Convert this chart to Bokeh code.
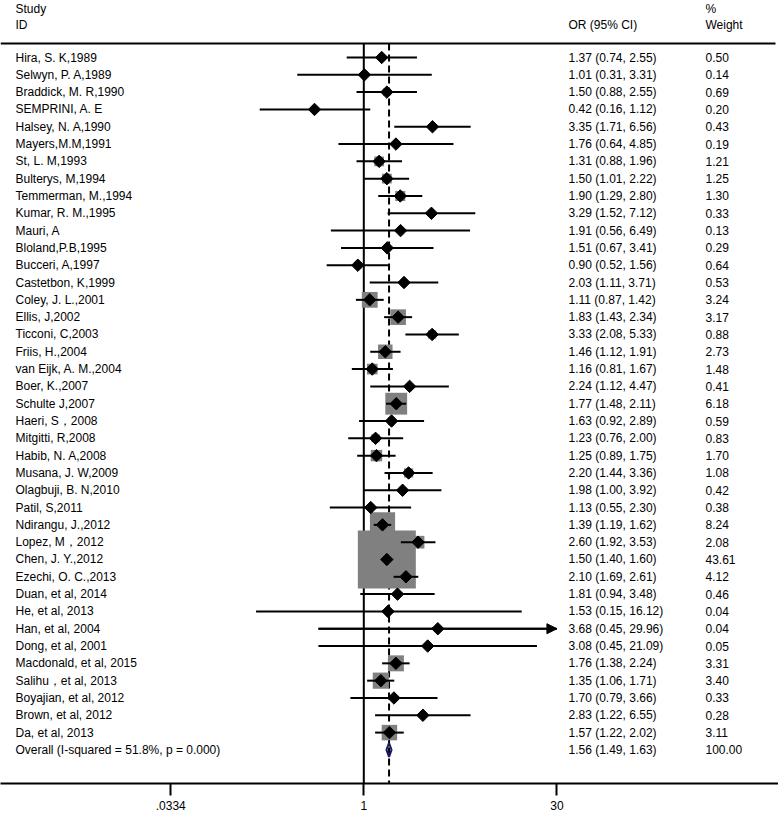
import math
from bokeh.plotting import figure
from bokeh.models import Range1d, FixedTicker, ColumnDataSource, Arrow, NormalHead
from bokeh.embed import file_html
from bokeh.resources import INLINE
from bokeh.core.properties import value

# ---------------- data ----------------
studies = [
    "Hira, S. K,1989", "Selwyn, P. A,1989", "Braddick, M. R,1990", "SEMPRINI, A. E",
    "Halsey, N. A,1990", "Mayers,M.M,1991", "St, L. M,1993", "Bulterys, M,1994",
    "Temmerman, M.,1994", "Kumar, R. M.,1995", "Mauri, A", "Bloland,P.B,1995",
    "Bucceri, A,1997", "Castetbon, K,1999", "Coley, J. L.,2001", "Ellis, J,2002",
    "Ticconi, C,2003", "Friis, H.,2004", "van Eijk, A. M.,2004", "Boer, K.,2007",
    "Schulte J,2007", "Haeri, S\uff0c2008", "Mitgitti, R,2008", "Habib, N. A,2008",
    "Musana, J. W,2009", "Olagbuji, B. N,2010", "Patil, S,2011", "Ndirangu, J.,2012",
    "Lopez, M\uff0c2012", "Chen, J. Y.,2012", "Ezechi, O. C.,2013", "Duan, et al, 2014",
    "He, et al, 2013", "Han, et al, 2004", "Dong, et al, 2001", "Macdonald, et al, 2015",
    "Salihu\uff0cet al, 2013", "Boyajian, et al, 2012", "Brown, et al, 2012", "Da, et al, 2013",
]
odds = [1.37, 1.01, 1.50, 0.42, 3.35, 1.76, 1.31, 1.50, 1.90, 3.29, 1.91, 1.51, 0.90, 2.03,
        1.11, 1.83, 3.33, 1.46, 1.16, 2.24, 1.77, 1.63, 1.23, 1.25, 2.20, 1.98, 1.13, 1.39,
        2.60, 1.50, 2.10, 1.81, 1.53, 3.68, 3.08, 1.76, 1.35, 1.70, 2.83, 1.57]
lower = [0.74, 0.31, 0.88, 0.16, 1.71, 0.64, 0.88, 1.01, 1.29, 1.52, 0.56, 0.67, 0.52, 1.11,
         0.87, 1.43, 2.08, 1.12, 0.81, 1.12, 1.48, 0.92, 0.76, 0.89, 1.44, 1.00, 0.55, 1.19,
         1.92, 1.40, 1.69, 0.94, 0.15, 0.45, 0.45, 1.38, 1.06, 0.79, 1.22, 1.22]
upper = [2.55, 3.31, 2.55, 1.12, 6.56, 4.85, 1.96, 2.22, 2.80, 7.12, 6.49, 3.41, 1.56, 3.71,
         1.42, 2.34, 5.33, 1.91, 1.67, 4.47, 2.11, 2.89, 2.00, 1.75, 3.36, 3.92, 2.30, 1.62,
         3.53, 1.60, 2.61, 3.48, 16.12, 29.96, 21.09, 2.24, 1.71, 3.66, 6.55, 2.02]
weights = [0.50, 0.14, 0.69, 0.20, 0.43, 0.19, 1.21, 1.25, 1.30, 0.33, 0.13, 0.29, 0.64, 0.53,
           3.24, 3.17, 0.88, 2.73, 1.48, 0.41, 6.18, 0.59, 0.83, 1.70, 1.08, 0.42, 0.38, 8.24,
           2.08, 43.61, 4.12, 0.46, 0.04, 0.04, 0.05, 3.31, 3.40, 0.33, 0.28, 3.11]

overall_label = "Overall  (I-squared = 51.8%, p = 0.000)"
overall_or = 1.56
overall_lo = 1.49
overall_hi = 1.63
overall_w = 100.00

tick_values = [0.0334, 1, 30]
tick_labels = [".0334", "1", "30"]

header_left = ["Study", "ID"]
header_or = "OR (95% CI)"
header_w = ["%", "Weight"]

# ---------------- layout constants ----------------
W, H = 778, 813
AXIS_H = 30
FRAME_H = H - AXIS_H
PX_PER_LN = 56.8
X_ONE = 363.3          # pixel of OR = 1
ROW_H = 17.31
ROW1 = 57.0            # pixel of first row
FONT = "Liberation Sans"


def xdata(px):
    return math.exp((px - X_ONE) / PX_PER_LN)


def ydata(py):
    return 1 + (py - ROW1) / ROW_H


n = len(studies)
rows = list(range(1, n + 1))
overall_row = n + 1
axis_max = max(tick_values)

p = figure(width=W, height=H, x_axis_type="log",
           x_range=Range1d(xdata(0), xdata(W)),
           y_range=Range1d(ydata(FRAME_H), ydata(0)),
           output_backend="svg", toolbar_location=None,
           min_border=0, min_border_bottom=AXIS_H, y_axis_location=None)
p.grid.visible = False
p.outline_line_color = None
p.background_fill_color = "white"
p.border_fill_color = "white"

# x axis
ax = p.xaxis[0]
ax.ticker = FixedTicker(ticks=tick_values)
ax.major_label_overrides = {v: t for v, t in zip(tick_values, tick_labels)}
ax.axis_line_width = 2
ax.axis_line_color = "black"
ax.major_tick_out = 12
ax.major_tick_in = 0
ax.major_tick_line_width = 2
ax.major_tick_line_color = "black"
ax.minor_tick_line_color = None
ax.major_label_text_font = FONT
ax.major_label_text_font_size = "12px"
ax.major_label_text_color = "black"
ax.major_label_standoff = 5

header_y = ydata(43)
bottom_y = ydata(FRAME_H)

# header rule
p.segment(x0=[xdata(0)], x1=[xdata(775)], y0=[header_y], y1=[header_y],
          line_color="black", line_width=2)
# null line
p.segment(x0=[1], x1=[1], y0=[header_y], y1=[bottom_y], line_color="black", line_width=2)
# overall dashed line
p.segment(x0=[overall_or], x1=[overall_or], y0=[header_y], y1=[bottom_y],
          line_color="black", line_width=2, line_dash="7 4")

src = ColumnDataSource(dict(
    odds=odds, lower=lower, upper=upper, row=rows,
    box=[8.78 * math.sqrt(w) for w in weights],
))

# weight boxes
p.scatter(x="odds", y="row", size="box", marker="square", source=src,
          fill_color="#808080", line_color=None)
# CIs
p.segment(x0="lower", x1="upper", y0="row", y1="row", source=src,
          line_color="black", line_width=2)
for lo_, hi_, r_ in zip(lower, upper, rows):
    if hi_ >= 0.99 * axis_max:
        p.add_layout(Arrow(x_start=lo_, x_end=hi_, y_start=r_, y_end=r_, line_width=2,
                           line_color="black",
                           end=NormalHead(size=10, fill_color="black", line_color="black")))
# point estimates
p.scatter(x="odds", y="row", size=8.8, marker="square", angle=math.pi / 4, source=src,
          fill_color="black", line_color="black")

# overall diamond
p.patch(x=[overall_lo, overall_or, overall_hi, overall_or],
        y=[overall_row, overall_row - 0.4, overall_row, overall_row + 0.4],
        fill_color="white", fill_alpha=0.0, line_color="#1a1a66", line_width=2)

# text columns
x_name = xdata(15)
x_or = xdata(568)
x_w = xdata(705)
txt = dict(text_font=value(FONT), text_font_size="12px", text_color="black",
           text_baseline="middle", text_align="left")

p.text(x=[x_name] * (n + 1), y=rows + [overall_row], text=studies + [overall_label], **txt)
or_text = ["%.2f (%.2f, %.2f)" % (o, l, h) for o, l, h in zip(odds, lower, upper)]
or_text.append("%.2f (%.2f, %.2f)" % (overall_or, overall_lo, overall_hi))
p.text(x=[x_or] * (n + 1), y=rows + [overall_row], text=or_text, **txt)
w_text = ["%.2f" % w for w in weights] + ["%.2f" % overall_w]
p.text(x=[x_w] * (n + 1), y=rows + [overall_row], text=w_text, **txt)

# headers
y_top = ydata(8)
y_second = ydata(24.5)
p.text(x=[x_name, x_name], y=[y_top, y_second], text=header_left, **txt)
p.text(x=[x_or], y=[y_second], text=[header_or], **txt)
p.text(x=[x_w, x_w], y=[y_top, y_second], text=header_w, **txt)

open("out.html", "w").write(file_html(p, INLINE))
